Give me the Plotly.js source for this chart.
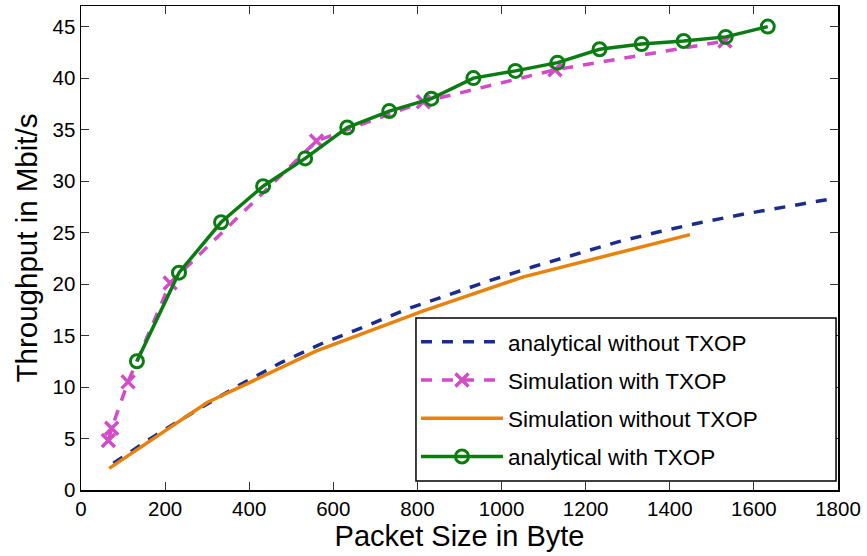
<!DOCTYPE html>
<html>
<head>
<meta charset="utf-8">
<script src="https://cdn.plot.ly/plotly-3.0.1.min.js"></script>
<style>html,body{margin:0;padding:0;background:#fff}#chart{width:867px;height:556px}</style>
</head>
<body>
<div id="chart"></div>
<script>
// Analytical without TXOP
const anaNoX = [77,177,277,377,477,577,677,777,877,977,1077,1177,1277,1377,1477,1577,1677,1781];
const anaNoY = [2.6,5.3,7.8,10.2,12.4,14.3,15.9,17.6,19.0,20.4,21.7,22.9,24.1,25.1,26.0,26.8,27.5,28.25];
// Simulation with TXOP
const simTxX = [65,73,112,212,560,814,1127,1531];
const simTxY = [4.8,6.0,10.5,20.1,33.9,37.7,40.8,43.6];
// Simulation without TXOP
const simNoX = [67,300,560,814,1052,1448];
const simNoY = [2.1,8.5,13.5,17.4,20.7,24.8];
// Analytical with TXOP
const anaTxX = [133,233,333,433,533,633,733,833,933,1033,1133,1233,1333,1433,1533,1633];
const anaTxY = [12.5,21.1,26.0,29.5,32.2,35.2,36.8,38.0,40.0,40.7,41.5,42.8,43.3,43.6,44.0,45.0];

const traces = [
  {x: anaNoX, y: anaNoY, name: 'analytical without TXOP', mode: 'lines', legendgroup: 'a',
   line: {color: '#1b2d8c', width: 3.5, dash: '11px,10px'}},
  {x: simTxX, y: simTxY, name: 'Simulation with TXOP', mode: 'lines+markers', legendgroup: 'b',
   line: {color: '#d24bc8', width: 3.5, dash: '11px,10px'},
   marker: {symbol: 'x-thin', size: 13, line: {color: '#d24bc8', width: 3.5}}},
  {x: simNoX, y: simNoY, name: 'Simulation without TXOP', mode: 'lines', legendgroup: 'c',
   line: {color: '#e8820c', width: 3.5}},
  {x: anaTxX, y: anaTxY, name: 'analytical with TXOP', mode: 'lines+markers', legendgroup: 'd',
   line: {color: '#0a7d12', width: 3.5},
   marker: {symbol: 'circle-open', size: 13, color: '#0a7d12', line: {color: '#0a7d12', width: 3}}}
];

const font = 'Liberation Sans, Arial, Helvetica, sans-serif';
const layout = {
  width: 867, height: 556,
  margin: {l: 81, r: 29, t: 6, b: 66},
  paper_bgcolor: '#fff', plot_bgcolor: '#fff',
  font: {family: font, color: '#000'},
  showlegend: true,
  legend: {x: 0.4425, y: 0.350, xanchor: 'left', yanchor: 'top',
    bgcolor: 'rgba(0,0,0,0)', borderwidth: 0,
    font: {family: font, size: 22.5, color: '#000'},
    traceorder: 'grouped', tracegroupgap: 6,
    itemwidth: 82},
  shapes: [{type: 'rect', xref: 'paper', yref: 'paper', layer: 'above',
    x0: 0.4425, x1: 0.9974, y0: 0.0186, y1: 0.3554,
    fillcolor: '#fff', line: {color: '#000', width: 1.5}}],
  xaxis: {range: [0, 1800], tickvals: [0,200,400,600,800,1000,1200,1400,1600,1800],
    ticks: 'inside', ticklen: 8, tickcolor: '#333', mirror: 'ticks', showline: true,
    linecolor: '#000', linewidth: 1.5, showgrid: false, zeroline: false,
    tickfont: {size: 20.5, family: font},
    title: {text: 'Packet Size in Byte', font: {size: 29, family: font}, standoff: 4}},
  yaxis: {range: [0, 47], tickvals: [0,5,10,15,20,25,30,35,40,45],
    ticks: 'inside', ticklen: 8, tickcolor: '#333', mirror: 'ticks', showline: true,
    linecolor: '#000', linewidth: 1.5, showgrid: false, zeroline: false,
    tickfont: {size: 20.5, family: font},
    title: {text: 'Throughput in Mbit/s', font: {size: 29.5, family: font}, standoff: 6}}
};
Plotly.newPlot('chart', traces, layout, {displayModeBar: false, staticPlot: true});
</script>
</body>
</html>
